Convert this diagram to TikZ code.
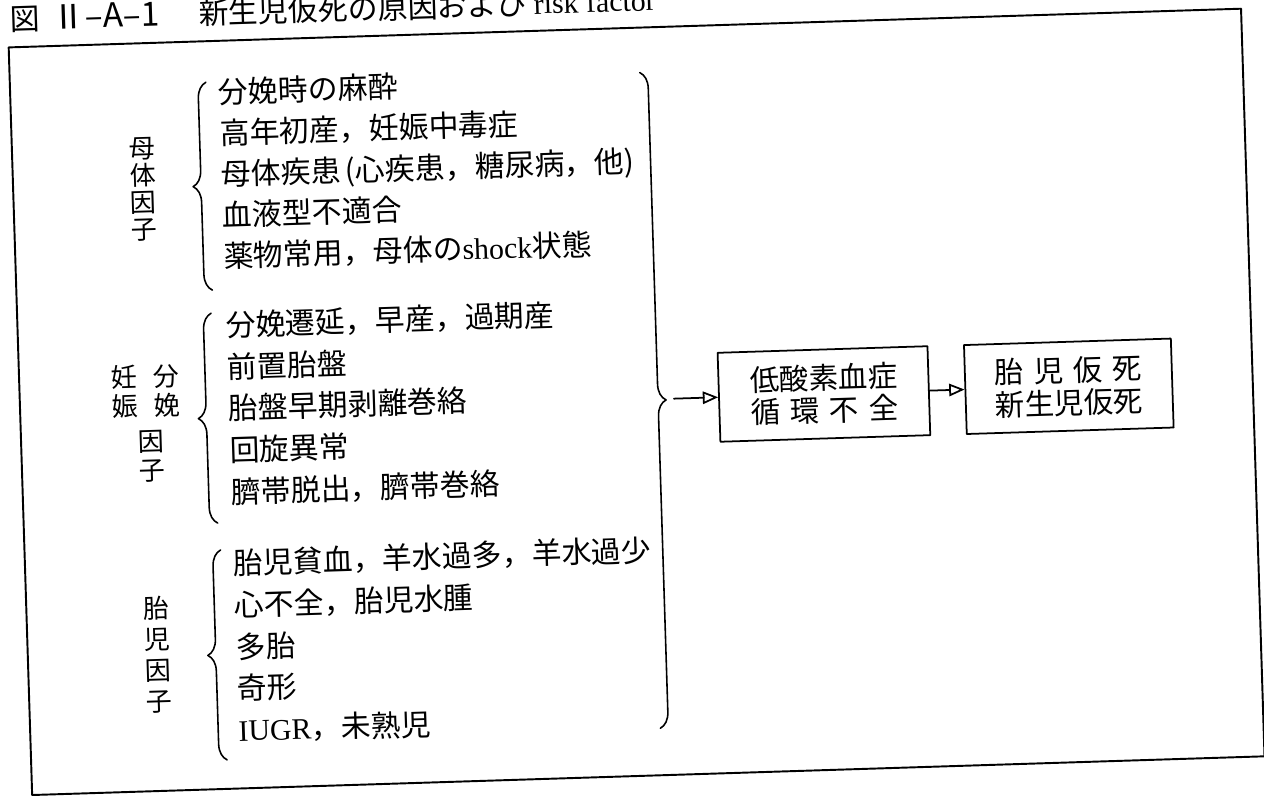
\documentclass[tikz,border=0pt]{standalone}
\usepackage{fontspec}
\setmainfont{Noto Sans CJK JP}
\newfontfamily\lat{Liberation Serif}
\usetikzlibrary{arrows,decorations.pathreplacing}

\begin{document}
\begin{tikzpicture}[line cap=round,line join=round,>=open triangle 45,x=0.02cm,y=-0.02cm,
  item/.style={anchor=west,inner sep=0pt,text height=0.88em,text depth=0.12em,font=\fontsize{17}{17}\selectfont},
  grp/.style={align=center,inner sep=0pt,font=\fontsize{14.8}{16.5}\selectfont},
  brc/.style={decorate,decoration={brace,amplitude=0.32cm},line width=0.9pt},
  res/.style={draw,line width=1pt,align=center,inner sep=0pt,minimum height=1.78cm}]
\useasboundingbox (0,0) rectangle (1264,798);
\clip (0,0) rectangle (1264,798);
\begin{scope}[rotate around={1.8:(632,399)},transform shape]
\draw(22, 0) node[anchor=west,inner sep=0pt,font=\fontsize{17}{17}\selectfont] (ttl) {図\hspace{0.4em}{\fontsize{19}{19}\selectfont Ⅱ–A–1}\hspace{1.3em}新生児仮死の原因および {\lat risk factor}};
\draw[line width=1.1pt] (20, 28) rectangle (1253, 776);
\draw(150, 174) node[grp,font=\fontsize{14.8}{15.4}\selectfont] (g1) {母\\体\\因\\子};
\draw[brc] (216, 277) -- (216, 69);
\draw(228, 84) node[item] (m1) {分娩時の麻酔};
\draw(228, 125) node[item] (m2) {高年初産，妊娠中毒症};
\draw(228, 166) node[item] (m3) {母体疾患\,(心疾患，糖尿病，他)};
\draw(228, 207) node[item] (m4) {血液型不適合};
\draw(228, 248) node[item] (m5) {薬物常用，母体の{\lat shock}状態};
\draw(125, 376) node[grp] (g2a) {妊\\娠};
\draw(167, 376) node[grp] (g2b) {分\\娩};
\draw(150, 441) node[grp] (g2c) {因\\子};
\draw[brc] (214, 510) -- (214, 300);
\draw(228, 317) node[item] (d1) {分娩遷延，早産，過期産};
\draw(228, 359) node[item] (d2) {前置胎盤};
\draw(228, 400) node[item] (d3) {胎盤早期剥離巻絡};
\draw(228, 442) node[item] (d4) {回旋異常};
\draw(228, 484) node[item] (d5) {臍帯脱出，臍帯巻絡};
\draw(150, 640) node[grp,font=\fontsize{14.8}{17.6}\selectfont] (g3) {胎\\児\\因\\子};
\draw[brc] (216, 747) -- (216, 537);
\draw(228, 555) node[item] (f1) {胎児貧血，羊水過多，羊水過少};
\draw(228, 597) node[item] (f2) {心不全，胎児水腫};
\draw(228, 639) node[item] (f3) {多胎};
\draw(228, 680) node[item] (f4) {奇形};
\draw(228, 722) node[item] (f5) {{\lat IUGR}，未熟児};
\draw[brc] (650, 73) -- (650, 729);
\coordinate (bt) at (674, 400);
\draw(824, 400) node[res,minimum width=4.2cm,font=\fontsize{16.8}{18.2}\selectfont] (hypo) {低酸素血症\\\hbox to 5em{循\hfil 環\hfil 不\hfil 全}};
\draw(1069, 400) node[res,minimum width=4.14cm,font=\fontsize{16.8}{18.5}\selectfont] (asph) {\hbox to 5em{胎\hfil 児\hfil 仮\hfil 死}\\新生児仮死};
\draw[->,line width=1pt] (bt) -- (hypo.west);
\draw[->,line width=1pt] (hypo.east) -- (asph.west);
\end{scope}
\end{tikzpicture}
\end{document}
